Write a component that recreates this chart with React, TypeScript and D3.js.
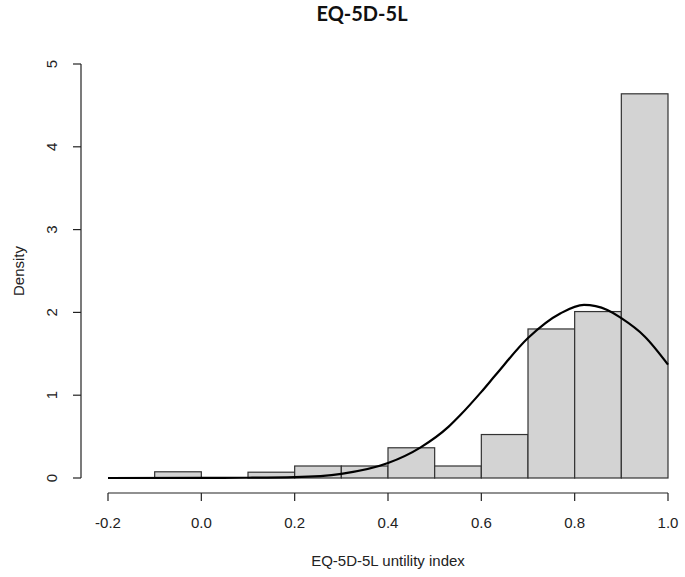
import React, { useEffect, useRef } from 'react';
import * as d3 from 'd3';

// histogram bins (width 0.1) and their densities
const binStarts = [-0.2, -0.1, 0.0, 0.1, 0.2, 0.3, 0.4, 0.5, 0.6, 0.7, 0.8, 0.9];
const binDensity = [0, 0.075, 0, 0.07, 0.145, 0.145, 0.365, 0.145, 0.525, 1.8, 2.01, 4.64];

// fitted curve, sampled by eye
const curveX = [-0.2, 0.0, 0.1, 0.2, 0.3, 0.4, 0.47, 0.53, 0.555, 0.6, 0.63, 0.7, 0.77, 0.82, 0.87, 0.9, 0.95, 1.0];
const curveY = [0, 0.001, 0.003, 0.01, 0.05, 0.18, 0.37, 0.62, 0.76, 1.04, 1.24, 1.69, 1.99, 2.09, 2.03, 1.93, 1.71, 1.37];

const xTicks = [-0.2, 0.0, 0.2, 0.4, 0.6, 0.8, 1.0];
const yTicks = [0, 1, 2, 3, 4, 5];

const W = 685;
const H = 577;

const App: React.FC = () => {
  const svgRef = useRef<SVGSVGElement>(null);

  useEffect(() => {
    document.body.style.margin = '0';
    if (!svgRef.current) return;
    const svg = d3.select(svgRef.current);
    svg.selectAll('*').remove();

    const font = '"Liberation Sans", Arial, sans-serif';
    const ink = '#222';

    const x = d3.scaleLinear().domain([-0.2, 1.0]).range([108, 668]);
    const y = d3.scaleLinear().domain([0, 5]).range([478, 64]);

    // bars
    svg.append('g')
      .selectAll('rect')
      .data(binStarts)
      .enter().append('rect')
      .attr('x', d => x(d))
      .attr('width', d => x(d + 0.1) - x(d))
      .attr('y', (d, i) => y(binDensity[i]))
      .attr('height', (d, i) => y(0) - y(binDensity[i]))
      .attr('fill', '#d3d3d3')
      .attr('stroke', '#333')
      .attr('stroke-width', 1.2);

    // curve
    const line = d3.line<number>()
      .x(d => x(d))
      .y((d, i) => y(curveY[i]))
      .curve(d3.curveMonotoneX);
    svg.append('path')
      .attr('d', line(curveX) as string)
      .attr('fill', 'none')
      .attr('stroke', '#000')
      .attr('stroke-width', 2.2);

    // x axis
    const xAxis = svg.append('g').attr('transform', 'translate(0,493)');
    xAxis.append('line')
      .attr('x1', x(-0.2)).attr('x2', x(1.0))
      .attr('stroke', ink).attr('stroke-width', 1.2);
    xAxis.selectAll('.tk').data(xTicks).enter().append('line')
      .attr('x1', d => x(d)).attr('x2', d => x(d))
      .attr('y1', 0).attr('y2', 8)
      .attr('stroke', ink).attr('stroke-width', 1.2);
    xAxis.selectAll('text').data(xTicks).enter().append('text')
      .attr('x', d => x(d))
      .attr('y', 35)
      .attr('text-anchor', 'middle')
      .style('font-family', font)
      .style('font-size', '15px')
      .attr('fill', ink)
      .text(d => d3.format('.1f')(d).replace('−', '-'));

    // y axis
    const yAxis = svg.append('g').attr('transform', 'translate(81,0)');
    yAxis.append('line')
      .attr('y1', y(0)).attr('y2', y(5))
      .attr('stroke', ink).attr('stroke-width', 1.2);
    yAxis.selectAll('.tk').data(yTicks).enter().append('line')
      .attr('y1', d => y(d)).attr('y2', d => y(d))
      .attr('x1', 0).attr('x2', -8)
      .attr('stroke', ink).attr('stroke-width', 1.2);
    yAxis.selectAll('text').data(yTicks).enter().append('text')
      .attr('transform', d => `translate(-24,${y(d)}) rotate(-90)`)
      .attr('text-anchor', 'middle')
      .style('font-family', font)
      .style('font-size', '15px')
      .attr('fill', ink)
      .text(d => String(d));

    // labels
    svg.append('text')
      .attr('x', 388).attr('y', 566)
      .attr('text-anchor', 'middle')
      .style('font-family', font)
      .style('font-size', '15px')
      .attr('fill', ink)
      .text('EQ-5D-5L untility index');

    svg.append('text')
      .attr('transform', `translate(24,${(y(0) + y(5)) / 2}) rotate(-90)`)
      .attr('text-anchor', 'middle')
      .style('font-family', font)
      .style('font-size', '15px')
      .attr('fill', ink)
      .text('Density');

    svg.append('text')
      .attr('x', 362).attr('y', 21)
      .attr('text-anchor', 'middle')
      .style('font-family', 'Lato, "Open Sans", sans-serif')
      .style('font-weight', 'bold')
      .style('font-size', '20px')
      .attr('fill', '#111')
      .text('EQ-5D-5L');
  }, []);

  return <svg ref={svgRef} width={W} height={H} style={{ display: 'block', background: '#fff' }} />;
};

export default App;
